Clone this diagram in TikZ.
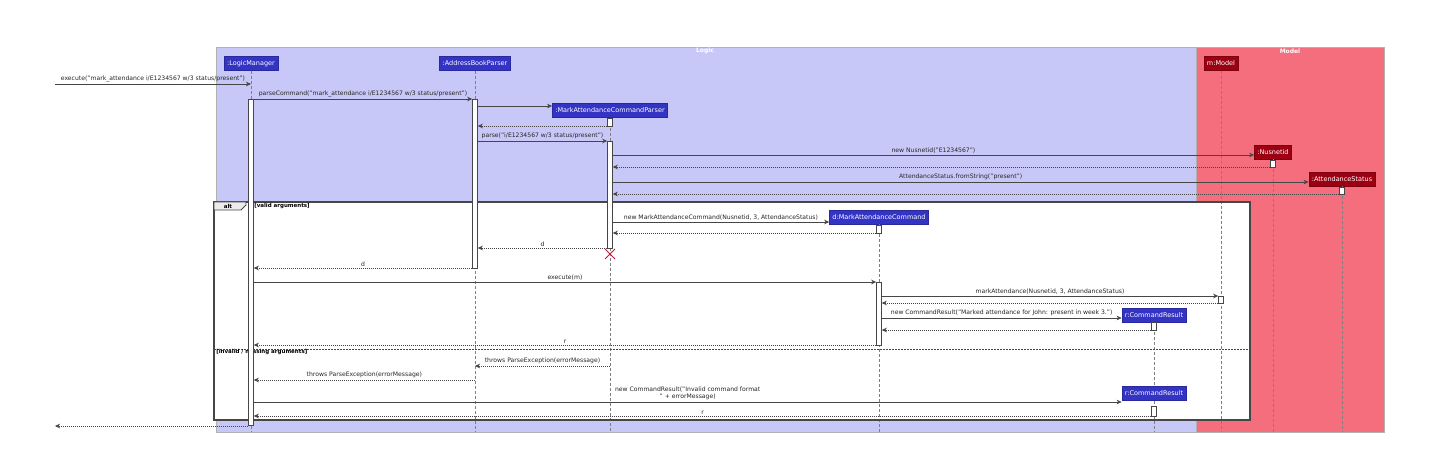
\documentclass[tikz,border=0pt]{standalone}
\usepackage{fontspec}
\setmainfont{DejaVu Sans}
\usetikzlibrary{arrows.meta,calc}

\definecolor{logicbg}{RGB}{200,200,248}
\definecolor{modelbg}{RGB}{244,110,125}
\definecolor{logicpart}{RGB}{51,51,196}
\definecolor{modelpart}{RGB}{157,0,18}
\definecolor{linegray}{RGB}{70,70,70}
\definecolor{killred}{RGB}{200,20,60}

\begin{document}
\begin{tikzpicture}[x=1pt,y=-1pt,line width=0.5pt,
  font=\fontsize{6.1}{7}\selectfont,
  part/.style={draw=#1!80!black,fill=#1,text=white,inner xsep=3pt,inner ysep=0pt,
    minimum height=14pt,font=\fontsize{6.5}{7.5}\selectfont},
  act/.style={draw=linegray,fill=white,minimum width=5pt,inner sep=0pt},
  life/.style={gray,dash pattern=on 3pt off 2pt,line width=0.4pt},
  msg/.style={linegray,line width=0.6pt,-{Stealth[length=5pt,width=4.5pt,inset=1.5pt]}},
  ret/.style={msg,dash pattern=on 1pt off 1pt},
  lbl/.style={above,inner sep=1.5pt,text=black!85},
  guard/.style={font=\fontsize{5.5}{6.5}\selectfont\bfseries,anchor=west,inner sep=1pt}]
  \useasboundingbox (0,0) rectangle (1451,457);

  % boxes
  \draw[fill=logicbg,draw=gray!60] (216,47) rectangle (1196,432);
  \draw[fill=modelbg,draw=gray!60] (1196,47) rectangle (1384,432);
  \node[text=white,font=\fontsize{6}{7}\selectfont\bfseries] at (705,51) {Logic};
  \node[text=white,font=\fontsize{6}{7}\selectfont\bfseries] at (1290,51) {Model};
  \fill[white] (214,202) rectangle (1250,420);

  % participants
  \node[part=logicpart] (lm) at (251,63.5) {:LogicManager};
  \node[part=logicpart] (abp) at (475,63.5) {:AddressBookParser};
  \node[part=modelpart] (mod) at (1221,63.5) {m:Model};
  \node[part=logicpart] (macp) at (610,110.5) {:MarkAttendanceCommandParser};
  \node[part=modelpart] (nid) at (1273,152) {:Nusnetid};
  \node[part=modelpart] (ast) at (1342,179) {:AttendanceStatus};
  \node[part=logicpart] (mac) at (879,217) {d:MarkAttendanceCommand};
  \node[part=logicpart] (crA) at (1154,315) {r:CommandResult};
  \node[part=logicpart] (crB) at (1154,393.5) {r:CommandResult};

  % lifelines
  \foreach \p in {lm,abp,mod,macp,nid,ast,mac,crB}
    \draw[life] (\p.south) -- (\p.south |- 0,432);
  \draw[life] (crA.south) -- (crB.north);

  % alt frame
  \draw[linegray,line width=1.2pt] (214,202) rectangle (1250,420);
  \draw[linegray,fill=gray!15,line width=0.8pt] (214,202) -- (246,202) -- (246,205)
    -- (241,210) -- (214,210) -- cycle;
  \node[font=\fontsize{5.5}{6.5}\selectfont\bfseries] at (228,206) {alt};
  \node[guard] at (253,206) {[valid arguments]};
  \draw[linegray,dash pattern=on 1.5pt off 1.5pt] (214,349) -- (1250,349);
  \node[guard] at (215,352.5) {[invalid / missing arguments]};

  % activations
  \node[act,minimum height=326pt] (lmA) at (lm |- 0,262) {};
  \node[act,minimum height=169pt] (abpA) at (abp |- 0,183.5) {};
  \node[act,minimum height=8pt] (macpA) at (macp |- 0,122) {};
  \node[act,minimum height=107pt] (macpB) at (macp |- 0,194.5) {};
  \node[act,minimum height=7pt] (nidA) at (nid |- 0,163.5) {};
  \node[act,minimum height=7pt] (astA) at (ast |- 0,190.5) {};
  \node[act,minimum height=8pt] (macA) at (mac |- 0,229) {};
  \node[act,minimum height=63pt] (macB) at (mac |- 0,313.5) {};
  \node[act,minimum height=7pt] (modA) at (mod |- 0,299.5) {};
  \node[act,minimum height=8pt] (crAA) at (crA |- 0,326) {};
  \node[act,minimum height=10pt] (crBA) at (crB |- 0,411) {};

  % messages
  \coordinate (in) at (55,84);
  \coordinate (out) at (55,426);
  \coordinate (kill) at (macp |- 0,254);
  \draw[msg] (in) -- node[lbl] {execute("mark\_attendance i/E1234567 w/3 status/present")} (lm |- in);
  \draw[msg] (lmA.east |- 0,99) -- node[lbl] {parseCommand("mark\_attendance i/E1234567 w/3 status/present")} (abpA.west |- 0,99);
  \draw[msg] (abpA.east |- 0,106) -- (macp.west |- 0,106);
  \draw[ret] (macpA.west |- 0,126) -- (abpA.east |- 0,126);
  \draw[msg] (abpA.east |- 0,141) -- node[lbl] {parse("i/E1234567 w/3 status/present")} (macpB.west |- 0,141);
  \draw[msg] (macpB.east |- 0,155) -- node[lbl] {new Nusnetid("E1234567")} (nid.west |- 0,155);
  \draw[ret] (nidA.west |- 0,167) -- (macpB.east |- 0,167);
  \draw[msg] (macpB.east |- 0,182) -- node[lbl] {AttendanceStatus.fromString("present")} (ast.west |- 0,182);
  \draw[ret] (astA.west |- 0,194) -- (macpB.east |- 0,194);
  \draw[msg] (macpB.east |- 0,222) -- node[lbl] {new MarkAttendanceCommand(Nusnetid, 3, AttendanceStatus)} (mac.west |- 0,222);
  \draw[ret] (macA.west |- 0,233) -- (macpB.east |- 0,233);
  \draw[ret] (macpB.west |- 0,248) -- node[lbl] {d} (abpA.east |- 0,248);
  \draw[killred,line width=0.9pt] ($(kill)+(-5,-5)$) -- ($(kill)+(5,5)$)
    ($(kill)+(5,-5)$) -- ($(kill)+(-5,5)$);
  \draw[ret] (abpA.west |- 0,268) -- node[lbl] {d} (lmA.east |- 0,268);
  \draw[msg] (lmA.east |- 0,282) -- node[lbl] {execute(m)} (macB.west |- 0,282);
  \draw[msg] (macB.east |- 0,296) -- node[lbl] {markAttendance(Nusnetid, 3, AttendanceStatus)} (modA.west |- 0,296);
  \draw[ret] (modA.west |- 0,303) -- (macB.east |- 0,303);
  \draw[msg] (macB.east |- 0,318) -- node[lbl] {new CommandResult("Marked attendance for John: present in week 3.")} (crA.west |- 0,318);
  \draw[ret] (crAA.west |- 0,330) -- (macB.east |- 0,330);
  \draw[ret] (macB.west |- 0,345) -- node[lbl] {r} (lmA.east |- 0,345);
  \draw[ret] (macp |- 0,366) -- node[lbl] {throws ParseException(errorMessage)} (abp |- 0,366);
  \draw[ret] (abp |- 0,380) -- node[lbl] {throws ParseException(errorMessage)} (lmA.east |- 0,380);
  \draw[msg] (lmA.east |- 0,402) -- node[lbl,align=center] {new CommandResult("Invalid command format\\" + errorMessage)} (crB.west |- 0,402);
  \draw[ret] (crBA.west |- 0,416) -- node[lbl] {r} (lmA.east |- 0,416);
  \draw[ret] (lmA.west |- 0,426) -- (out);
\end{tikzpicture}
\end{document}
